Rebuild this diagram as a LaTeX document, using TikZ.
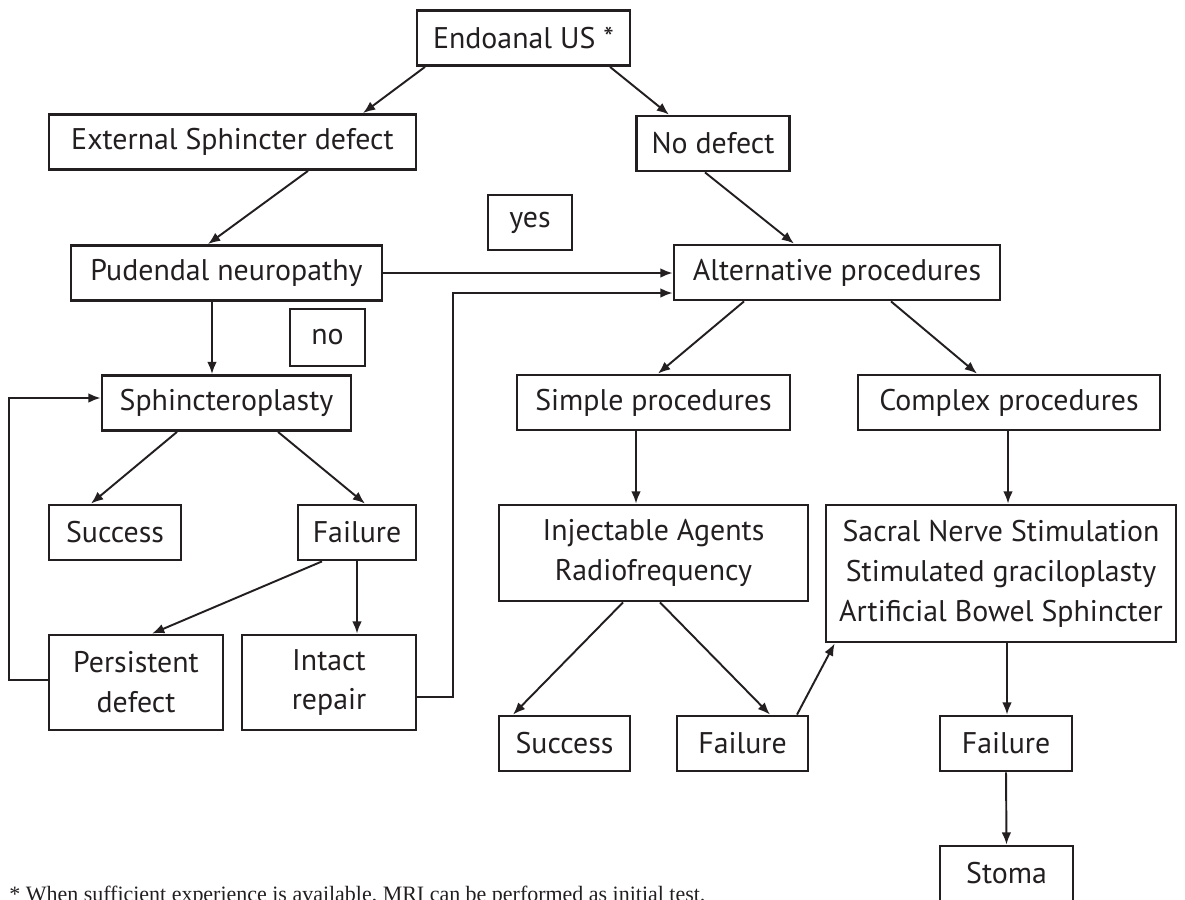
\documentclass[tikz,border=0pt]{standalone}
\usepackage{fontspec}
\setmainfont{PT Sans}
\newfontfamily\notefont{Liberation Serif}
\usetikzlibrary{arrows.meta, positioning, calc}
\definecolor{inkgray}{RGB}{35,31,32}

\begin{document}
\begin{tikzpicture}[
    x=0.02cm, y=-0.02cm,
    font=\fontsize{17}{22.7}\selectfont,
    box/.style={rectangle, draw=inkgray, line width=1.6pt, text=inkgray,
        minimum height=1.1cm, inner sep=2pt, align=center},
    arrow/.style={-{Latex[length=7pt,width=5.5pt]}, draw=inkgray, line width=1.1pt},
    note/.style={font=\notefont\fontsize{12.5}{15}\selectfont, text=inkgray, anchor=base west, inner sep=0pt}
]
\useasboundingbox (0,0) rectangle (1185,899);

% === TOP ===
\node[box, minimum width=4.26cm] (endo) at (523.5,38) {Endoanal US *};
\node[box, minimum width=7.34cm] (ext) at (232.5,142) {External Sphincter defect};
\node[box, minimum width=3.06cm] (nodef) at (713,143.5) {No defect};
\node[box, minimum width=1.68cm] (yes) at (530,222.5) {yes};
\node[box, minimum width=6.22cm] (pud) at (226.5,273) {Pudendal neuropathy};
\node[box, minimum width=6.52cm] (alt) at (837,272.5) {Alternative procedures};
\node[box, minimum width=1.5cm, minimum height=1.14cm] (no) at (327.5,337.5) {no};

% === LEFT BRANCH ===
\node[box, minimum width=4.98cm] (sph) at (226.5,403) {Sphincteroplasty};
\node[box, minimum width=2.64cm] (succA) at (115,532.5) {Success};
\node[box, minimum width=2.36cm] (failA) at (357,532.5) {Failure};
\node[box, minimum width=3.48cm, minimum height=1.9cm] (pers) at (136,682.5) {Persistent\\defect};
\node[box, minimum width=3.48cm, minimum height=1.9cm] (intact) at (329,682.5) {Intact\\repair};

% === RIGHT BRANCH ===
\node[box, minimum width=5.46cm] (simple) at (653.5,402.5) {Simple procedures};
\node[box, minimum width=6.04cm] (complex) at (1009,402.5) {Complex procedures};
\node[box, minimum width=6.18cm, minimum height=1.92cm] (inj) at (653.5,553) {Injectable Agents\\Radiofrequency};
\node[box, minimum width=7.0cm, minimum height=2.74cm] (sacral) at (1001,573.5)
    {Sacral Nerve Stimulation\\Stimulated graciloplasty\\Artificial Bowel Sphincter};
\node[box, minimum width=2.62cm] (succB) at (564.5,743.5) {Success};
\node[box, minimum width=2.62cm] (failB) at (742.5,743.5) {Failure};
\node[box, minimum width=2.64cm] (failC) at (1006,743.5) {Failure};
\node[box, minimum width=2.66cm] (stoma) at (1006.5,873.5) {Stoma};

% Footnote
\node[note] (fn) at (9,901) {* When sufficient experience is available, MRI can be performed as initial test.};

% Arrows
\draw[arrow] ($(endo.south)+(-98.5,0)$) -- ($(ext.north)+(130.5,0)$);
\draw[arrow] ($(endo.south)+(86.5,0)$) -- ($(nodef.north)+(-44,0)$);
\draw[arrow] ($(ext.south)+(75.5,0)$) -- ($(pud.north)+(-18.5,0)$);
\draw[arrow] ($(nodef.south)+(-8,0)$) -- ($(alt.north)+(-43,0)$);
\draw[arrow] (pud.east) -- (pud.east -| alt.west);
\draw[arrow] ($(pud.south)+(-14.5,0)$) -- ($(sph.north)+(-14.5,0)$);
\draw[arrow] ($(intact.east)+(0,14.5)$) -- ++(36,0) |- ($(alt.west)+(0,20.5)$);
\draw[arrow] ($(alt.south)+(-93,0)$) -- ($(simple.north)+(4.5,0)$);
\draw[arrow] ($(alt.south)+(54,0)$) -- ($(complex.north)+(-32,0)$);
\draw[arrow] ($(simple.south)+(-17.5,0)$) -- ($(inj.north)+(-17.5,0)$);
\draw[arrow] ($(complex.south)+(-1,0)$) -- ($(sacral.north)+(7,0)$);
\draw[arrow] ($(sph.south)+(-49.5,0)$) -- ($(succA.north)+(-24,0)$);
\draw[arrow] ($(sph.south)+(51.5,0)$) -- ($(failA.north)+(8,0)$);
\draw[arrow] ($(failA.south)+(-35,0)$) -- ($(pers.north)+(16,0)$);
\draw[arrow] (failA.south) -- (failA.south |- intact.north);
\draw[arrow] ($(pers.west)+(0,-2.5)$) -- ++(-39,0) |- ($(sph.west)+(0,-5)$);
\draw[arrow] ($(inj.south)+(-30.5,0)$) -- ($(succB.north)+(-51.5,0)$);
\draw[arrow] ($(inj.south)+(6.5,0)$) -- ($(failB.north)+(27.5,0)$);
\draw[arrow] ($(failB.north)+(54.5,0)$) -- ($(sacral.south west)+(10,0)$);
\draw[arrow] ($(sacral.south)+(6,0)$) -- ($(failC.north)+(1,0)$);
\draw[arrow] (failC.south) -- (stoma.north);

\end{tikzpicture}
\end{document}
